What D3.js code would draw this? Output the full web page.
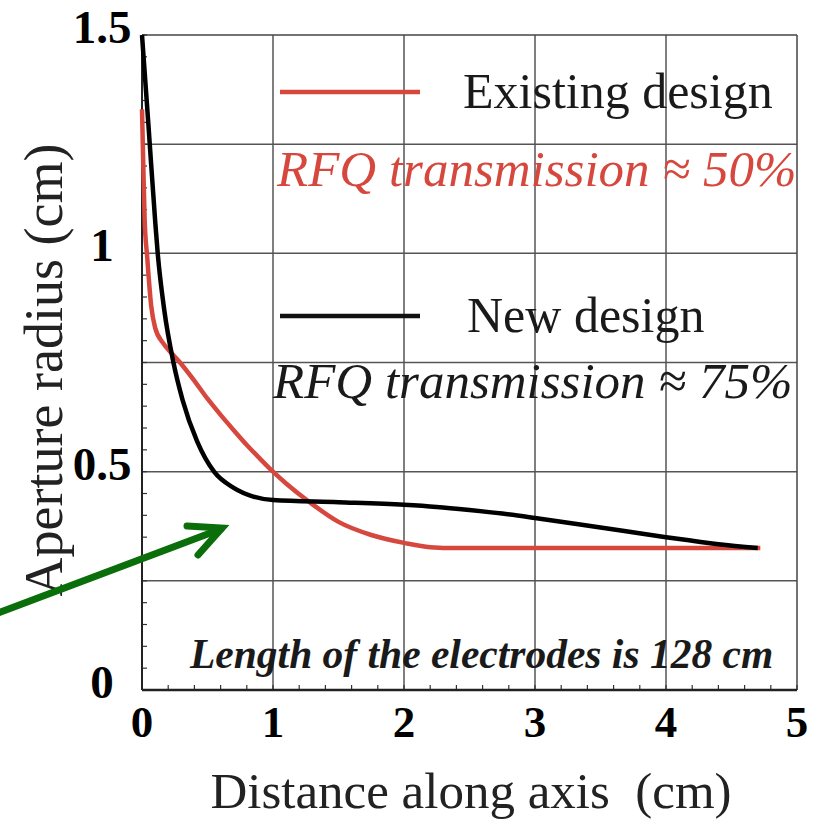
<!DOCTYPE html>
<html>
<head>
<meta charset="utf-8">
<script src="https://cdn.jsdelivr.net/npm/d3@7"></script>
<style>
  html, body { margin: 0; padding: 0; background: #fff; }
  svg { display: block; }
  text { white-space: pre; }
</style>
</head>
<body>
<svg id="chart" width="815" height="825"></svg>
<script>
// ---- data ----
const existingX = [0.0, 0.01, 0.02, 0.04, 0.07, 0.10, 0.16, 0.23, 0.29, 0.40, 0.50, 0.60, 0.70, 0.80, 0.90, 1.00, 1.10, 1.28, 1.50, 1.75, 2.00, 2.20, 2.40, 3.00, 4.00, 4.72];
const existingY = [1.33, 1.20, 1.08, 0.99, 0.88, 0.83, 0.795, 0.77, 0.75, 0.708, 0.667, 0.630, 0.595, 0.561, 0.530, 0.50, 0.473, 0.43, 0.385, 0.355, 0.337, 0.327, 0.325, 0.325, 0.325, 0.325];
const newX = [0.0, 0.05, 0.10, 0.12, 0.17, 0.24, 0.31, 0.42, 0.55, 0.70, 0.85, 1.00, 1.50, 2.00, 2.25, 2.50, 2.75, 3.00, 3.50, 4.00, 4.40, 4.70];
const newY = [1.50, 1.29, 1.076, 1.00, 0.87, 0.75, 0.664, 0.57, 0.50, 0.463, 0.443, 0.435, 0.43, 0.424, 0.419, 0.412, 0.404, 0.394, 0.372, 0.35, 0.334, 0.325];
const xTicks = [0, 1, 2, 3, 4, 5];
const yTicks = [0, 0.5, 1, 1.5];
const yTickLabels = ["0", "0.5", "1", "1.5"];
const yGrid = [0.25, 0.5, 0.75, 1.0, 1.25];
const xGrid = [1, 2, 3, 4];
const legendNames = ["Existing design", "New design"];
const legendNotes = ["RFQ transmission \u2248 50%", "RFQ transmission \u2248 75%"];
const noteText = "Length of the electrodes is 128 cm";
const xTitle = "Distance along axis  (cm)";
const yTitle = "Aperture radius (cm)";

// ---- layout ----
const svg = d3.select("#chart");
const L = 142, R = 797, T = 35, B = 690;
const x = d3.scaleLinear().domain([0, 5]).range([L, R]);
const y = d3.scaleLinear().domain([0, 1.5]).range([B, T]);
const red = "#d6483e";
const serif = "'Liberation Serif', 'Times New Roman', serif";

// grid
svg.append("g").selectAll("line").data(yGrid).join("line")
  .attr("x1", L).attr("x2", R).attr("y1", d => y(d)).attr("y2", d => y(d))
  .attr("stroke", "#555").attr("stroke-width", 1.5);
svg.append("g").selectAll("line").data(xGrid).join("line")
  .attr("y1", T).attr("y2", B).attr("x1", d => x(d)).attr("x2", d => x(d))
  .attr("stroke", "#555").attr("stroke-width", 1.5);
// frame top/right
svg.append("line").attr("x1", L).attr("x2", R).attr("y1", T).attr("y2", T).attr("stroke", "#444").attr("stroke-width", 1.5);
svg.append("line").attr("x1", R).attr("x2", R).attr("y1", T).attr("y2", B).attr("stroke", "#444").attr("stroke-width", 1.5);

// minor ticks
const yMinor = d3.range(0, 1.5001, 0.05);
svg.append("g").selectAll("line").data(yMinor).join("line")
  .attr("x1", L).attr("x2", L + 5).attr("y1", d => y(d)).attr("y2", d => y(d))
  .attr("stroke", "#333").attr("stroke-width", 1.2);
const xMinor = d3.range(0, 5.0001, 0.2);
svg.append("g").selectAll("line").data(xMinor).join("line")
  .attr("y1", B).attr("y2", B - 5).attr("x1", d => x(d)).attr("x2", d => x(d))
  .attr("stroke", "#333").attr("stroke-width", 1.2);

// axes lines
svg.append("line").attr("x1", L).attr("x2", L).attr("y1", T).attr("y2", B).attr("stroke", "#222").attr("stroke-width", 2);
svg.append("line").attr("x1", L).attr("x2", R).attr("y1", B).attr("y2", B).attr("stroke", "#222").attr("stroke-width", 2.5);

// tick labels
svg.append("g").selectAll("text").data(yTicks).join("text")
  .attr("x", 102).attr("y", d => y(d) + 8)
  .attr("text-anchor", "middle")
  .attr("font-family", serif).attr("font-weight", "bold").attr("font-size", 47)
  .text((d, i) => yTickLabels[i]);
svg.append("g").selectAll("text").data(xTicks).join("text")
  .attr("x", d => x(d)).attr("y", 737)
  .attr("text-anchor", "middle")
  .attr("font-family", serif).attr("font-weight", "bold").attr("font-size", 45)
  .text(d => d);

// axis titles
svg.append("text").attr("x", 471).attr("y", 808).attr("text-anchor", "middle")
  .attr("font-family", serif).attr("font-size", 51).attr("fill", "#222").text(xTitle);
svg.append("text").attr("transform", "translate(62,370) rotate(-90)").attr("text-anchor", "middle")
  .attr("font-family", serif).attr("font-size", 54).attr("fill", "#222").text(yTitle);

// curves
const line = d3.line().x(d => x(d[0])).y(d => y(d[1])).curve(d3.curveMonotoneX);
svg.append("path").datum(existingX.map((v, i) => [v, existingY[i]]))
  .attr("d", line).attr("fill", "none").attr("stroke", red).attr("stroke-width", 4.5);
svg.append("path").datum(newX.map((v, i) => [v, newY[i]]))
  .attr("d", line).attr("fill", "none").attr("stroke", "#000").attr("stroke-width", 4.5);

// legend
const legColors = [red, "#111"];
const legY = [92, 316];
const noteY = [186, 398];
legendNames.forEach((n, i) => {
  svg.append("line").attr("x1", 280).attr("x2", 420).attr("y1", legY[i]).attr("y2", legY[i])
    .attr("stroke", legColors[i]).attr("stroke-width", 4.5);
  svg.append("text").attr("x", i === 0 ? 463 : 467).attr("y", legY[i] + 16)
    .attr("font-family", serif).attr("font-size", 50).attr("fill", "#1a1a1a").text(n);
  svg.append("text").attr("x", i === 0 ? 277 : 273).attr("y", noteY[i])
    .attr("font-family", serif).attr("font-style", "italic").attr("font-size", 51)
    .attr("fill", i === 0 ? red : "#1a1a1a").text(legendNotes[i]);
});

// note
svg.append("text").attr("x", 190).attr("y", 668)
  .attr("font-family", serif).attr("font-style", "italic").attr("font-weight", "bold")
  .attr("font-size", 41.5).attr("fill", "#1a1a1a").text(noteText);

// green arrow
const green = "#0a6e0a";
svg.append("line").attr("x1", -2).attr("y1", 613).attr("x2", 221).attr("y2", 529)
  .attr("stroke", green).attr("stroke-width", 7).attr("stroke-linecap", "round");
svg.append("path").attr("d", "M187,526 L222,528 L198,555")
  .attr("fill", "none").attr("stroke", green).attr("stroke-width", 7)
  .attr("stroke-linecap", "round").attr("stroke-linejoin", "miter");
</script>
</body>
</html>
